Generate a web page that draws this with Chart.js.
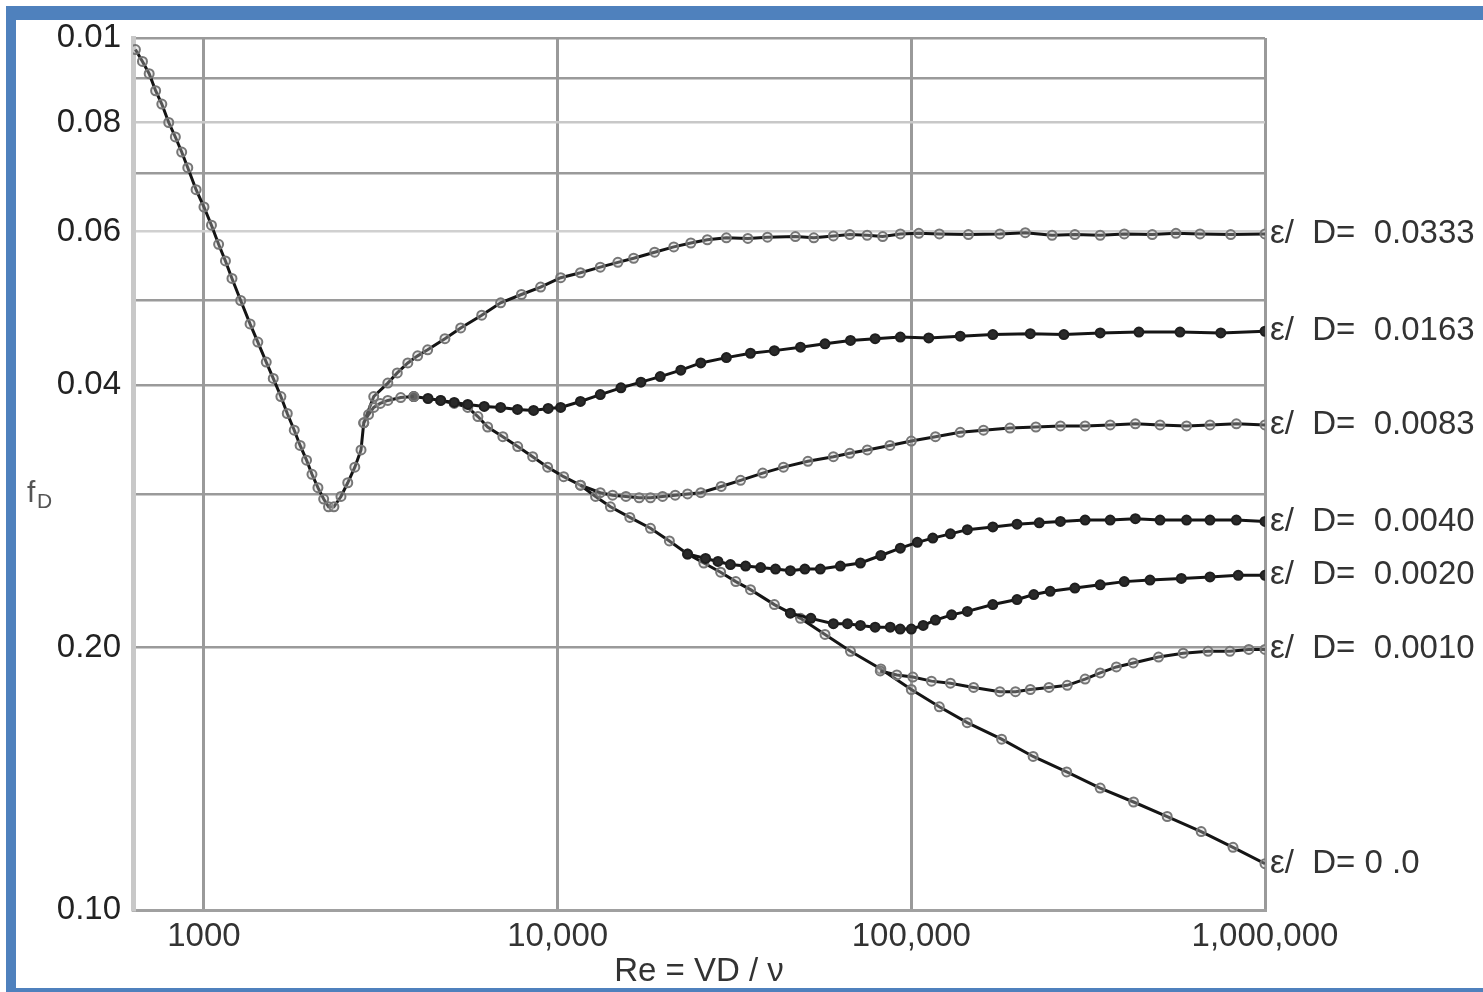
<!DOCTYPE html>
<html>
<head>
<meta charset="utf-8">
<script src="https://cdn.jsdelivr.net/npm/chart.js@4.4.1/dist/chart.umd.min.js"></script>
<style>
html, body { margin: 0; padding: 0; background: #fff; overflow: hidden; }
canvas { display: block; }
</style>
</head>
<body>
<canvas id="diagramme-moody" width="1483" height="992"></canvas>
<script>
// Valeurs : nombre de Reynolds (abscisse) et coefficient f (ordonnée)
const laminaireRe = [640, 670, 700, 730, 760, 795, 830, 865, 900, 950, 1000, 1050, 1100, 1150, 1200, 1270, 1350, 1420, 1500, 1570, 1650, 1720, 1800, 1870, 1950, 2020, 2100, 2180, 2250, 2330, 2440, 2550, 2670, 2780, 2830, 2920, 3020, 3150, 3310, 3600, 3920];
const laminaireF = [0.097, 0.094, 0.091, 0.087, 0.084, 0.080, 0.077, 0.074, 0.071, 0.067, 0.064, 0.061, 0.058, 0.0555, 0.053, 0.050, 0.047, 0.0448, 0.0425, 0.0407, 0.0388, 0.0371, 0.0355, 0.0341, 0.0328, 0.0316, 0.0305, 0.0296, 0.0290, 0.0290, 0.0298, 0.0309, 0.0322, 0.0337, 0.0362, 0.0370, 0.0377, 0.0381, 0.0384, 0.0387, 0.0388];

const rugo0333Re = [2830, 3020, 3310, 3520, 3770, 4020, 4290, 4800, 5320, 6100, 6900, 7900, 8950, 10200, 11600, 13200, 14800, 16400, 18800, 21300, 23800, 26500, 30000, 34500, 39200, 47000, 53000, 60200, 67000, 75000, 83000, 93100, 105000, 120000, 145000, 178000, 210000, 250000, 290000, 342000, 400000, 480000, 560000, 655000, 800000, 1000000];
const rugo0333F = [0.0362, 0.0388, 0.0402, 0.0413, 0.0424, 0.0432, 0.0439, 0.0452, 0.0465, 0.0481, 0.0497, 0.0508, 0.0518, 0.0531, 0.0538, 0.0546, 0.0553, 0.0559, 0.0568, 0.0576, 0.0582, 0.0587, 0.0590, 0.0589, 0.0591, 0.0592, 0.0590, 0.0593, 0.0595, 0.0594, 0.0592, 0.0596, 0.0597, 0.0596, 0.0595, 0.0596, 0.0598, 0.0594, 0.0595, 0.0594, 0.0596, 0.0595, 0.0597, 0.0596, 0.0595, 0.0596];

const rugo0163Re = [3920, 4300, 4670, 5100, 5570, 6200, 6900, 7700, 8550, 9400, 10200, 11600, 13200, 15100, 17200, 19500, 22300, 25400, 30000, 35100, 41000, 48600, 57000, 67300, 79000, 93100, 112000, 137500, 170000, 217000, 270000, 342000, 440000, 575000, 750000, 1000000];
const rugo0163F = [0.0388, 0.0386, 0.0384, 0.0382, 0.0380, 0.0378, 0.0377, 0.0375, 0.0374, 0.0376, 0.0377, 0.0383, 0.0390, 0.0397, 0.0403, 0.0409, 0.0416, 0.0424, 0.0430, 0.0435, 0.0438, 0.0442, 0.0446, 0.0450, 0.0452, 0.0454, 0.0453, 0.0455, 0.0457, 0.0458, 0.0457, 0.0459, 0.0460, 0.0460, 0.0459, 0.0461];

const rugo0083Re = [11600, 13200, 14300, 15600, 17000, 18300, 19800, 21500, 23300, 25400, 29000, 32900, 38000, 43500, 51000, 60200, 67000, 75100, 87000, 100000, 117000, 137500, 160000, 190000, 225000, 264000, 310000, 365000, 430000, 505000, 600000, 699000, 830000, 1000000];
const rugo0083F = [0.0307, 0.0301, 0.0299, 0.0298, 0.0297, 0.0297, 0.0298, 0.0299, 0.0300, 0.0301, 0.0306, 0.0311, 0.0317, 0.0322, 0.0327, 0.0331, 0.0334, 0.0337, 0.0341, 0.0345, 0.0349, 0.0353, 0.0355, 0.0357, 0.0358, 0.0359, 0.0359, 0.0360, 0.0361, 0.0360, 0.0359, 0.0360, 0.0361, 0.0360];

const rugo0040Re = [23300, 26200, 28400, 30800, 34000, 37500, 41300, 45500, 50000, 55300, 63000, 71800, 82000, 93100, 104000, 115000, 129000, 144000, 170000, 199000, 230000, 264000, 310000, 365000, 430000, 505000, 600000, 699000, 830000, 1000000];
const rugo0040F = [0.0256, 0.0253, 0.0251, 0.0249, 0.0248, 0.0247, 0.0246, 0.0245, 0.0246, 0.0246, 0.0248, 0.0250, 0.0255, 0.0260, 0.0264, 0.0267, 0.0270, 0.0273, 0.0275, 0.0277, 0.0278, 0.0279, 0.0280, 0.0280, 0.0281, 0.0280, 0.0280, 0.0280, 0.0280, 0.0279];

const rugo0020Re = [45500, 52000, 60200, 66000, 71800, 79000, 87200, 93000, 100000, 108000, 117000, 130000, 144000, 170000, 199000, 222000, 247000, 290000, 342000, 400000, 473000, 580000, 699000, 840000, 1000000];
const rugo0020F = [0.0219, 0.0216, 0.0213, 0.0213, 0.0212, 0.0211, 0.0211, 0.0210, 0.0210, 0.0212, 0.0215, 0.0218, 0.0220, 0.0224, 0.0227, 0.0230, 0.0232, 0.0234, 0.0236, 0.0238, 0.0239, 0.0240, 0.0241, 0.0242, 0.0242];

const rugo0010Re = [81700, 91000, 101000, 114000, 129000, 150000, 178000, 197000, 217000, 245000, 276000, 310000, 342000, 380000, 424000, 500000, 587000, 690000, 796000, 900000, 1000000];
const rugo0010F = [0.0188, 0.0186, 0.0185, 0.0183, 0.0182, 0.0180, 0.0178, 0.0178, 0.0179, 0.0180, 0.0181, 0.0184, 0.0187, 0.0190, 0.0192, 0.0195, 0.0197, 0.0198, 0.0198, 0.0199, 0.0199];

const lisseRe = [4670, 5100, 5570, 5950, 6340, 7000, 7710, 8500, 9370, 10400, 11600, 12800, 14100, 16000, 18300, 20700, 23300, 25900, 28900, 31900, 35100, 41000, 48600, 57000, 67300, 82000, 100000, 120000, 143900, 180000, 221000, 275000, 342000, 425000, 529000, 660000, 812000, 1000000];
const lisseF = [0.0384, 0.0381, 0.0377, 0.0368, 0.0358, 0.0349, 0.0340, 0.0331, 0.0322, 0.0314, 0.0307, 0.0298, 0.0290, 0.0282, 0.0274, 0.0265, 0.0256, 0.0250, 0.0244, 0.0238, 0.0233, 0.0224, 0.0216, 0.0207, 0.0198, 0.0189, 0.0179, 0.0171, 0.0164, 0.0157, 0.0150, 0.0144, 0.0138, 0.0133, 0.0128, 0.0123, 0.0118, 0.0113];

// Étiquettes de fin de courbe
const etiquettes = ["", "ε/  D=  0.0333", "ε/  D=  0.0163", "ε/  D=  0.0083", "ε/  D=  0.0040", "ε/  D=  0.0020", "ε/  D=  0.0010", "ε/  D= 0 .0"];

// Graduations des axes (les libellés de l'axe vertical sont recopiés tels quels)
const xGraduations = [1000, 10000, 100000, 1000000];
const xLibelles = ["1000", "10,000", "100,000", "1,000,000"];
const yGrille = [0.01, 0.02, 0.03, 0.04, 0.05, 0.06, 0.07, 0.08, 0.09, 0.1];
const yGraduations = [0.1, 0.08, 0.06, 0.04, 0.02, 0.01];
const yLibelles = ["0.01", "0.08", "0.06", "0.04", "0.20", "0.10"];

const courbes = [
	{ re: laminaireRe, f: laminaireF, gris: true },
	{ re: rugo0333Re, f: rugo0333F, gris: true },
	{ re: rugo0163Re, f: rugo0163F, gris: false },
	{ re: rugo0083Re, f: rugo0083F, gris: true },
	{ re: rugo0040Re, f: rugo0040F, gris: false },
	{ re: rugo0020Re, f: rugo0020F, gris: false },
	{ re: rugo0010Re, f: rugo0010F, gris: true },
	{ re: lisseRe, f: lisseF, gris: true },
];

const police = '"Liberation Sans", Arial, sans-serif';

const datasets = courbes.map((c, i) => ({
	label: etiquettes[i],
	data: c.re.map((r, j) => ({ x: r, y: c.f[j] })),
	borderColor: "#151515",
	borderWidth: 3,
	pointRadius: 4.5,
	pointBorderWidth: 2,
	pointBorderColor: c.gris ? "#767676" : "#1e1e1e",
	pointBackgroundColor: c.gris ? "rgba(200,200,200,0.35)" : "#2a2a2a",
	tension: 0,
}));

// Couleur des lignes horizontales (certaines sont plus claires sur l'original)
function couleurGrilleY(valeur) {
	if (Math.abs(valeur - 0.08) < 1e-6) return "#c8c8c8";
	if (Math.abs(valeur - 0.06) < 1e-6) return "#d0d0d0";
	return "#9a9a9a";
}

// Cadre bleu, étiquettes des courbes et symbole f_D
const decor = {
	id: "decor",
	beforeDraw(chart) {
		const ctx = chart.ctx;
		ctx.save();
		ctx.fillStyle = "#fff";
		ctx.fillRect(0, 0, chart.width, chart.height);
		ctx.fillStyle = "#4f81bd";
		ctx.fillRect(6, 6, chart.width - 6, 14);
		ctx.fillRect(6, 6, 10, chart.height - 6);
		ctx.fillRect(6, 988, chart.width - 6, 6);
		ctx.restore();
	},
	afterDraw(chart) {
		const ctx = chart.ctx;
		const yEchelle = chart.scales.y;
		ctx.save();
		ctx.fillStyle = "#333";
		ctx.textBaseline = "middle";
		ctx.font = "33px " + police;
		courbes.forEach((c, i) => {
			if (!etiquettes[i]) return;
			const dernier = c.f[c.f.length - 1];
			ctx.fillText(etiquettes[i], chart.chartArea.right + 5, yEchelle.getPixelForValue(dernier));
		});
		ctx.fillStyle = "#555";
		ctx.font = "30px " + police;
		ctx.fillText("f", 27, 494);
		ctx.font = "21px " + police;
		ctx.fillText("D", 37, 502);
		ctx.restore();
	},
};

new Chart(document.querySelector("#diagramme-moody"), {
	type: "line",
	data: { datasets: datasets },
	options: {
		responsive: false,
		animation: false,
		layout: { padding: { left: 0, top: 38, right: 218, bottom: 0 } },
		plugins: { legend: { display: false }, tooltip: { enabled: false } },
		scales: {
			x: {
				type: "logarithmic",
				min: 630,
				max: 1000000,
				afterBuildTicks: (s) => { s.ticks = xGraduations.map(v => ({ value: v })); },
				afterFit: (s) => { s.height = 82; },
				ticks: {
					autoSkip: false,
					maxRotation: 0,
					padding: 7,
					color: "#333",
					font: { size: 33, family: police },
					callback: (v) => xLibelles[xGraduations.indexOf(v)] ?? "",
				},
				grid: { color: "#9a9a9a", lineWidth: 3, drawTicks: false },
				border: { color: "#a0a0a0", width: 3 },
				title: {
					display: true,
					text: "Re = VD / ν",
					color: "#333",
					font: { size: 33, family: police },
					padding: { top: 0, bottom: 0 },
				},
			},
			y: {
				type: "logarithmic",
				min: 0.01,
				max: 0.1,
				afterBuildTicks: (s) => { s.ticks = yGrille.map(v => ({ value: v })); },
				afterFit: (s) => { s.width = 133; },
				ticks: {
					autoSkip: false,
					padding: 12,
					color: "#222",
					font: { size: 33, family: police },
					callback: (v) => {
						const k = yGraduations.findIndex(g => Math.abs(g - v) < 1e-9);
						return k >= 0 ? yLibelles[k] : "";
					},
				},
				grid: {
					color: (ctx) => couleurGrilleY(ctx.tick ? ctx.tick.value : 0),
					lineWidth: 2.5,
					drawTicks: false,
				},
				border: { color: "#c8c8c8", width: 5 },
			},
		},
	},
	plugins: [decor],
});
</script>
</body>
</html>
